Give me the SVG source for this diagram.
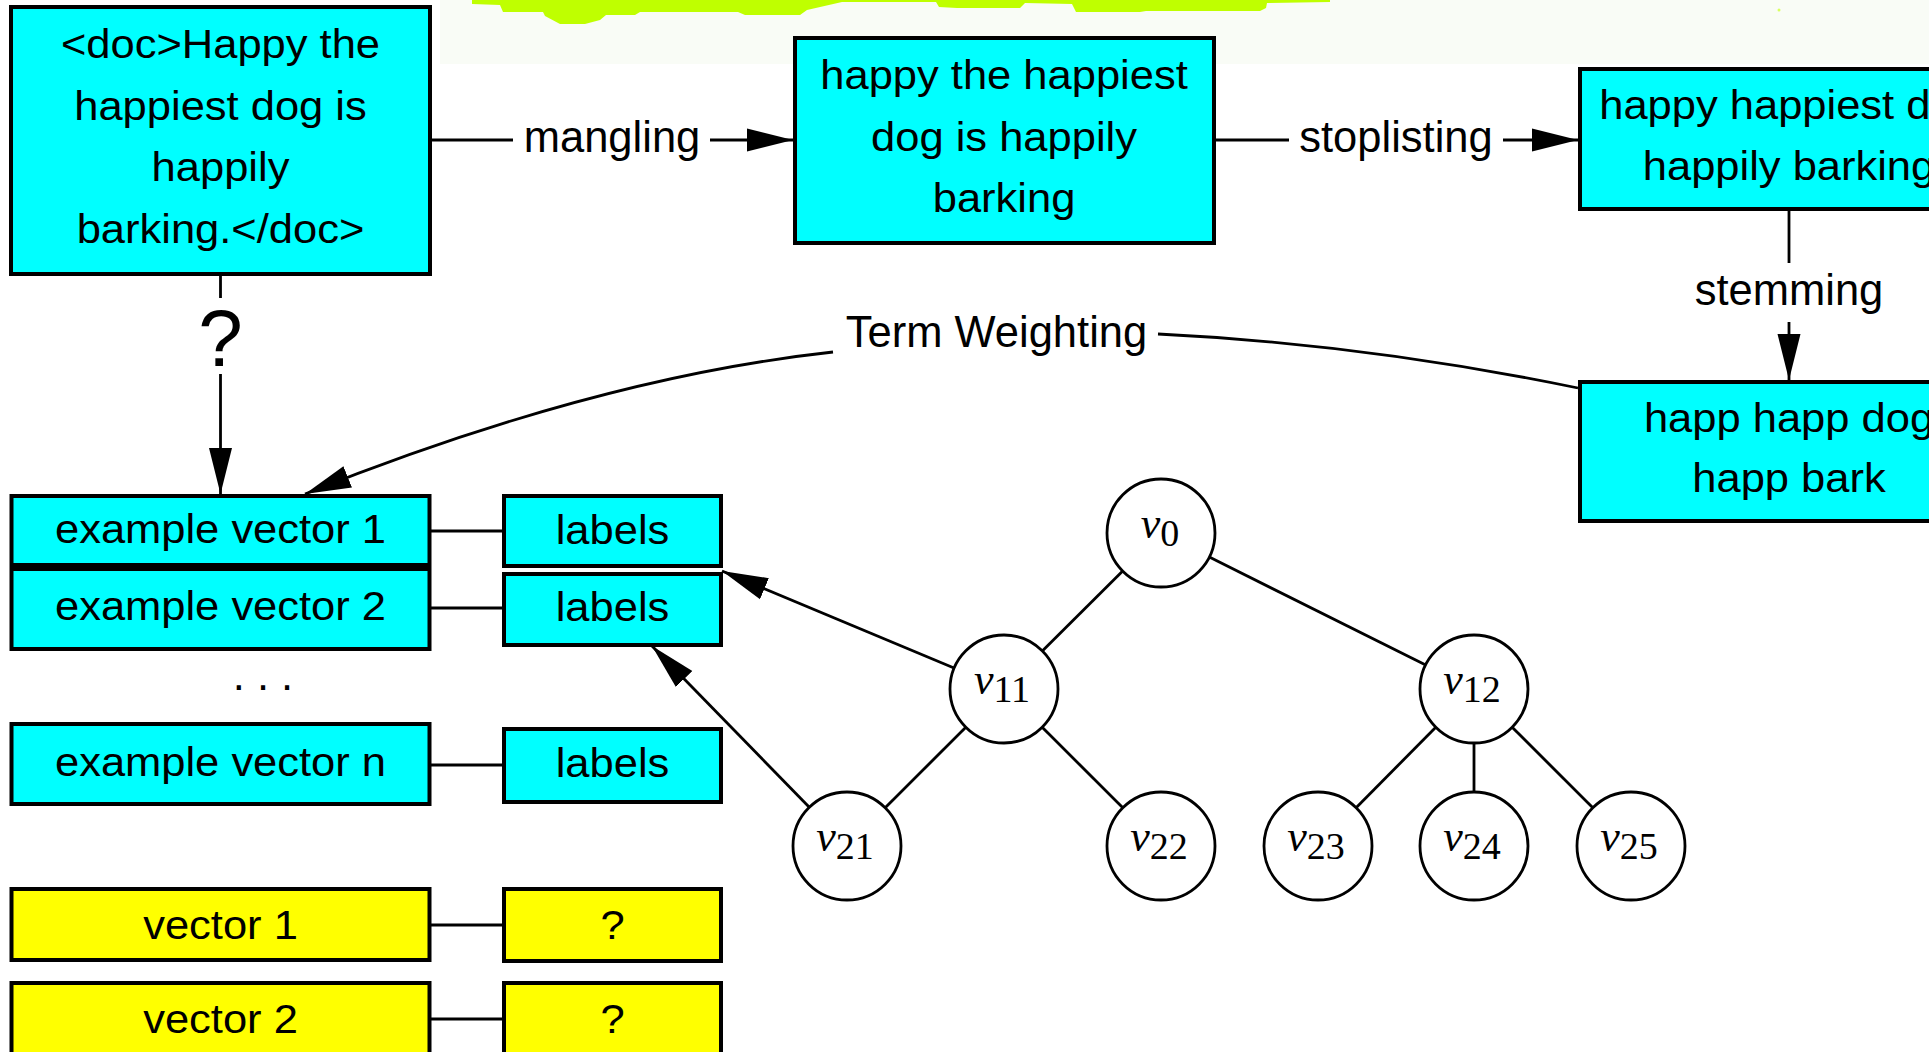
<svg xmlns="http://www.w3.org/2000/svg" width="1929" height="1052" viewBox="0 0 1929 1052">
  <defs>
    <marker id="ah" viewBox="0 -12 46 24" refX="46" refY="0" markerWidth="46" markerHeight="24" markerUnits="userSpaceOnUse" orient="auto">
      <path d="M0,-11.5 L46,0 L0,11.5 Z" fill="#000"/>
    </marker>
    <style>
      .box { stroke: #000; stroke-width: 4; }
      .cy { fill: #00ffff; }
      .ye { fill: #ffff00; }
      .bt { font-family: "Liberation Sans", Arial, Helvetica, sans-serif; font-size: 40px; text-anchor: middle; fill: #000; }
      .lb { font-family: "Liberation Sans", Arial, Helvetica, sans-serif; font-size: 43.5px; text-anchor: middle; fill: #000; }
      .ln { stroke: #000; stroke-width: 2.8; fill: none; }
      .arr { marker-end: url(#ah); }
      .circ { fill: #fff; stroke: #000; stroke-width: 2.8; }
      .nu { font-family: "Liberation Serif", "Times New Roman", serif; font-size: 44px; font-style: italic; text-anchor: middle; fill: #000; }
      .sub { font-size: 38px; font-style: normal; }
    </style>
  </defs>

  <rect width="1929" height="1052" fill="#fff"/>

  <!-- pale band and lime brush stroke along the top edge -->
  <rect x="440" y="0" width="1489" height="64" fill="#f9fcf6"/>
  <path d="M472,0 L1330,0 L1330,2 L1267,3 L1266,8 L1260,11 L1146,11 L1140,12 L1076,12 L1072,4 L1025,3 L1020,8 L957,8 L939,7 L936,2 L842,2 L807,10 L800,15 L745,15 L738,12 L640,12 L635,15 L606,15 L600,20 L585,24 L560,24 L545,16 L543,12 L503,12 L500,5 L472,4 Z" fill="#bfff00"/>
  <circle cx="1779" cy="10" r="1.5" fill="#d8ff60"/>

  <!-- text processing pipeline -->
  <g id="doc">
    <rect class="box cy" x="11" y="7" width="419" height="267"/>
    <g transform="translate(220.5 0) scale(1.0875 1)">
      <text class="bt" x="0" y="58">&lt;doc&gt;Happy the</text>
      <text class="bt" x="0" y="120">happiest dog is</text>
      <text class="bt" x="0" y="181">happily</text>
      <text class="bt" x="0" y="243">barking.&lt;/doc&gt;</text>
    </g>
  </g>

  <g id="mangled">
    <rect class="box cy" x="795" y="38" width="419" height="205"/>
    <g transform="translate(1004 0) scale(1.0875 1)">
      <text class="bt" x="0" y="89">happy the happiest</text>
      <text class="bt" x="0" y="151">dog is happily</text>
      <text class="bt" x="0" y="212">barking</text>
    </g>
  </g>

  <g id="stoplisted">
    <rect class="box cy" x="1580" y="69" width="450" height="140"/>
    <g transform="translate(1789 0) scale(1.0875 1)">
      <text class="bt" x="0" y="119">happy happiest dog</text>
      <text class="bt" x="0" y="180">happily barking</text>
    </g>
  </g>

  <g id="stemmed">
    <rect class="box cy" x="1580" y="382" width="450" height="139"/>
    <g transform="translate(1789 0) scale(1.0875 1)">
      <text class="bt" x="0" y="432">happ happ dog</text>
      <text class="bt" x="0" y="492">happ bark</text>
    </g>
  </g>

  <!-- training examples -->
  <g id="ev1">
    <rect class="box cy" x="11.5" y="496" width="418" height="69"/>
    <text class="bt" transform="translate(220.5 0) scale(1.0875 1)" x="0" y="543">example vector 1</text>
  </g>
  <g id="ev2">
    <rect class="box cy" x="11.5" y="569" width="418" height="80"/>
    <text class="bt" transform="translate(220.5 0) scale(1.0875 1)" x="0" y="620">example vector 2</text>
  </g>
  <text class="lb" x="263" y="690">. . .</text>
  <g id="evn">
    <rect class="box cy" x="11.5" y="724" width="418" height="80"/>
    <text class="bt" transform="translate(220.5 0) scale(1.0875 1)" x="0" y="776">example vector n</text>
  </g>

  <g id="lab1">
    <rect class="box cy" x="504" y="496" width="217" height="70"/>
    <text class="bt" transform="translate(612.5 0) scale(1.0875 1)" x="0" y="544">labels</text>
  </g>
  <g id="lab2">
    <rect class="box cy" x="504" y="574" width="217" height="71"/>
    <text class="bt" transform="translate(612.5 0) scale(1.0875 1)" x="0" y="621">labels</text>
  </g>
  <g id="lab3">
    <rect class="box cy" x="504" y="729" width="217" height="73"/>
    <text class="bt" transform="translate(612.5 0) scale(1.0875 1)" x="0" y="777">labels</text>
  </g>

  <!-- unlabelled vectors -->
  <g id="v1">
    <rect class="box ye" x="11.5" y="889" width="418" height="71"/>
    <text class="bt" transform="translate(220.5 0) scale(1.0875 1)" x="0" y="939">vector 1</text>
  </g>
  <g id="q1">
    <rect class="box ye" x="504" y="889" width="217" height="72"/>
    <text class="bt" transform="translate(612.5 0) scale(1.0875 1)" x="0" y="939">?</text>
  </g>
  <g id="v2">
    <rect class="box ye" x="11.5" y="983" width="418" height="100"/>
    <text class="bt" transform="translate(220.5 0) scale(1.0875 1)" x="0" y="1033">vector 2</text>
  </g>
  <g id="q2">
    <rect class="box ye" x="504" y="983" width="217" height="100"/>
    <text class="bt" transform="translate(612.5 0) scale(1.0875 1)" x="0" y="1033">?</text>
  </g>

  <!-- label tree -->
  <g id="n0"><circle class="circ" cx="1161" cy="533" r="54"/><text class="nu" x="1160" y="538">ν<tspan class="sub" dy="8">0</tspan></text></g>
  <g id="n11"><circle class="circ" cx="1004" cy="689" r="54"/><text class="nu" x="1002" y="694">ν<tspan class="sub" dy="8">11</tspan></text></g>
  <g id="n12"><circle class="circ" cx="1474" cy="689" r="54"/><text class="nu" x="1472" y="694">ν<tspan class="sub" dy="8">12</tspan></text></g>
  <g id="n21"><circle class="circ" cx="847" cy="846" r="54"/><text class="nu" x="845" y="851">ν<tspan class="sub" dy="8">21</tspan></text></g>
  <g id="n22"><circle class="circ" cx="1161" cy="846" r="54"/><text class="nu" x="1159" y="851">ν<tspan class="sub" dy="8">22</tspan></text></g>
  <g id="n23"><circle class="circ" cx="1318" cy="846" r="54"/><text class="nu" x="1316" y="851">ν<tspan class="sub" dy="8">23</tspan></text></g>
  <g id="n24"><circle class="circ" cx="1474" cy="846" r="54"/><text class="nu" x="1472" y="851">ν<tspan class="sub" dy="8">24</tspan></text></g>
  <g id="n25"><circle class="circ" cx="1631" cy="846" r="54"/><text class="nu" x="1629" y="851">ν<tspan class="sub" dy="8">25</tspan></text></g>

  <!-- connectors -->
  <g id="connectors">
    <line class="ln" x1="432" y1="140" x2="513" y2="140"/>
    <line class="ln arr" x1="710" y1="140" x2="793" y2="140"/>
    <text class="lb" x="612" y="152">mangling</text>

    <line class="ln" x1="1216" y1="140" x2="1289" y2="140"/>
    <line class="ln arr" x1="1503" y1="140" x2="1578" y2="140"/>
    <text class="lb" x="1396" y="152">stoplisting</text>

    <line class="ln" x1="1789" y1="211" x2="1789" y2="263"/>
    <line class="ln arr" x1="1789" y1="322" x2="1789" y2="380"/>
    <text class="lb" x="1789" y="305">stemming</text>

    <path class="ln" d="M1578,388 Q1365,344 1158,334"/>
    <path class="ln arr" d="M833,352 Q595,378 305,494"/>
    <text class="lb" x="996.5" y="347">Term Weighting</text>

    <line class="ln" x1="220.5" y1="276" x2="220.5" y2="298"/>
    <line class="ln arr" x1="220.5" y1="374" x2="220.5" y2="494"/>
    <text class="lb" x="220.5" y="366" style="font-size:80px">?</text>

    <line class="ln" x1="431" y1="531" x2="502" y2="531"/>
    <line class="ln" x1="431" y1="608" x2="502" y2="608"/>
    <line class="ln" x1="431" y1="765" x2="502" y2="765"/>
    <line class="ln" x1="431" y1="925" x2="502" y2="925"/>
    <line class="ln" x1="431" y1="1019" x2="502" y2="1019"/>

    <line class="ln" x1="1122.7" y1="571.1" x2="1042.3" y2="650.9"/>
    <line class="ln" x1="1209.3" y1="557.1" x2="1425.7" y2="664.9"/>
    <line class="ln" x1="965.8" y1="727.2" x2="885.2" y2="807.8"/>
    <line class="ln" x1="1042.2" y1="727.2" x2="1122.8" y2="807.8"/>
    <line class="ln" x1="1435.8" y1="727.2" x2="1356.1" y2="807.8"/>
    <line class="ln" x1="1474" y1="743" x2="1474" y2="792"/>
    <line class="ln" x1="1512.2" y1="727.2" x2="1592.8" y2="807.8"/>

    <line class="ln arr" x1="954" y1="668" x2="722" y2="571"/>
    <line class="ln arr" x1="809.3" y1="807.3" x2="652" y2="646"/>
  </g>
</svg>
